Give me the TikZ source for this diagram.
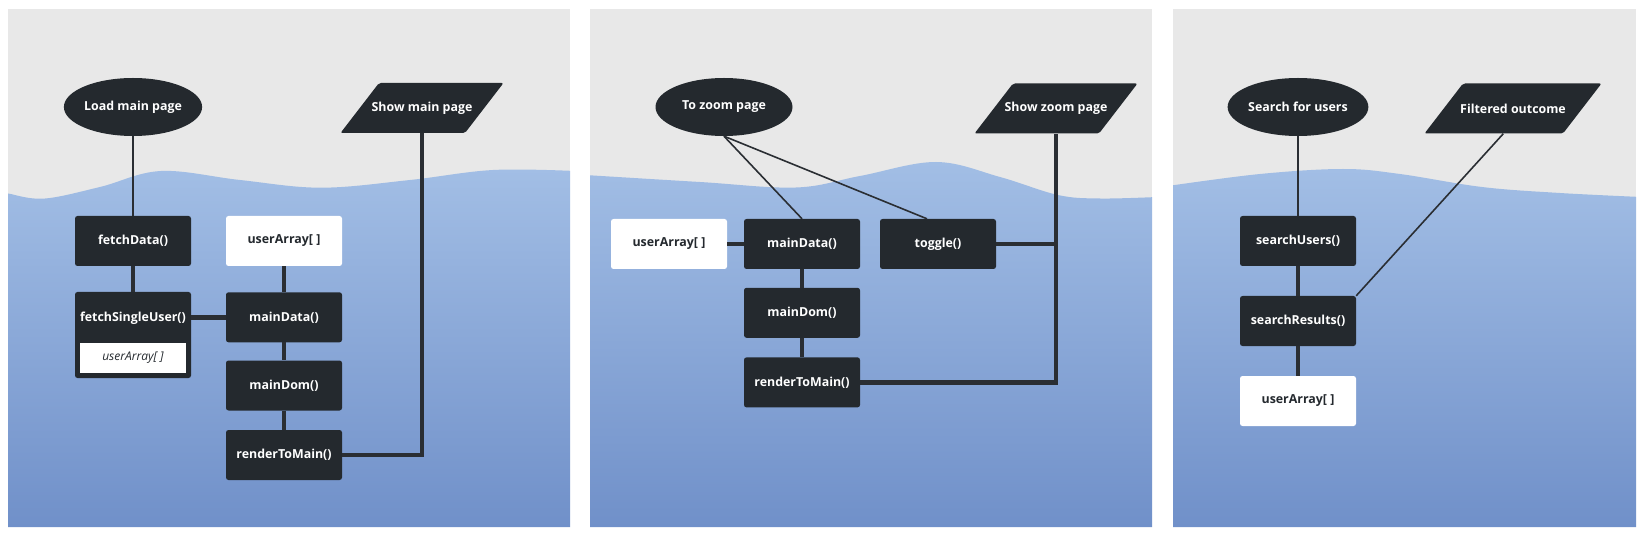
\documentclass[tikz,border=0pt]{standalone}
\usepackage{fontspec}
\setmainfont{Open Sans}
\usetikzlibrary{shapes.geometric}
\definecolor{dk}{HTML}{24292E}
\definecolor{gr}{HTML}{E8E8E8}
\definecolor{blt}{HTML}{A2BEE5}
\definecolor{bdk}{HTML}{7090C9}
\definecolor{ln}{HTML}{2A2E33}
\begin{document}
\begin{tikzpicture}[x=1pt,y=-1pt,
  lbl/.style={font=\bfseries\fontsize{12.4}{14}\selectfont},
  proc/.style={rectangle, rounded corners=2.5pt, fill=dk, text=white, lbl, minimum width=116pt, minimum height=50pt, inner sep=0pt},
  datab/.style={proc, fill=white, text=dk},
  term/.style={ellipse, fill=dk, text=white, lbl, minimum width=137pt, minimum height=58pt, inner sep=0pt},
  io/.style={rectangle, text=white, lbl, minimum width=163pt, minimum height=50pt, inner sep=0pt,
    path picture={\fill[dk, rounded corners=2pt]
      ([xshift=38.5pt]path picture bounding box.north west) -- (path picture bounding box.north east)
      -- ([xshift=-38.5pt]path picture bounding box.south east) -- (path picture bounding box.south west) -- cycle;}},
  thinln/.style={draw=ln, line width=1.6pt},
  thickln/.style={draw=ln, line width=4.5pt},
]
\useasboundingbox (0,0) rectangle (1644,537);
\fill[white] (0,0) rectangle (1644,537);
% ---------- panel backgrounds ----------
\fill[gr] (8,9) rectangle (570,527);
\fill[gr] (590,9) rectangle (1152,527);
\fill[gr] (1173,9) rectangle (1636,527);
\begin{scope}
  \clip (8,9) rectangle (570,527);
  \shade[top color=blt, bottom color=bdk] plot[smooth, tension=0.6] coordinates {(0,192) (8,193.5) (44,198.6) (100,187) (161,171) (240,180) (321,187.7) (410,180) (493,170) (575,171)} -- (575,527) -- (0,527) -- cycle;
\end{scope}
\begin{scope}
  \clip (590,9) rectangle (1152,527);
  \shade[top color=blt, bottom color=bdk] plot[smooth, tension=0.6] coordinates {(585,175) (700,182) (796,187.5) (860,176) (936,162) (1000,177) (1058,195) (1100,198.5) (1157,197)} -- (1157,527) -- (585,527) -- cycle;
\end{scope}
\begin{scope}
  \clip (1173,9) rectangle (1636,527);
  \shade[top color=blt, bottom color=bdk] plot[smooth, tension=0.6] coordinates {(1168,186) (1260,174) (1343,169) (1400,174) (1482,187) (1560,193) (1641,197)} -- (1641,527) -- (1168,527) -- cycle;
\end{scope}
% ---------- panel 1 ----------
\node[term] (lmp) at (133,107) {Load main page};
\node[io] (smp) at (422,108) {Show main page};
\node[proc] (fd) at (133,241) {fetchData()};
\node[datab] (ua1) at (284,241) {userArray[ ]};
\node[proc, minimum height=86pt] (fsu) at (133,335) {};
\node[text=white, lbl] (fsut) at (133,318.5) {fetchSingleUser()};
\node[fill=white, text=dk, font=\itshape\fontsize{12}{14}\selectfont, minimum width=106pt, minimum height=29.5pt, inner sep=0pt] (fsua) at (133,358) {userArray[ ]};
\node[proc] (md1) at (284,317.3) {mainData()};
\node[proc] (mdom1) at (284,385.5) {mainDom()};
\node[proc] (rtm1) at (284,455) {renderToMain()};
\draw[thinln] (lmp) -- (fd);
\draw[thickln] (fd) -- (fsu);
\draw[thickln] (ua1) -- (md1);
\draw[thickln] (md1.west) -- (md1.west -| fsu.east);
\draw[thickln] (md1) -- (mdom1);
\draw[thickln] (mdom1) -- (rtm1);
\draw[thickln] (rtm1.east) -| (smp);
% ---------- panel 2 ----------
\node[term] (tzp) at (724,107) {To zoom page};
\node[io] (szp) at (1056,108.5) {Show zoom page};
\node[datab] (ua2) at (669,244) {userArray[ ]};
\node[proc] (md2) at (802,244) {mainData()};
\node[proc] (tg) at (938,244) {toggle()};
\node[proc] (mdom2) at (802,312.8) {mainDom()};
\node[proc] (rtm2) at (802,382.4) {renderToMain()};
\draw[thinln] (tzp.south) -- (md2.north);
\draw[thinln] (tzp.south) -- ([xshift=-11pt]tg.north);
\draw[thickln] (ua2) -- (md2);
\draw[thickln] (md2) -- (mdom2);
\draw[thickln] (mdom2) -- (rtm2);
\draw[thickln] (rtm2.east) -| (szp);
\draw[thickln] (tg.east) -- (tg.east -| szp);
% ---------- panel 3 ----------
\node[term] (sfu) at (1298,107) {Search for users};
\node[io, minimum width=177pt] (fo) at (1513,108.5) {Filtered outcome};
\node[proc] (su) at (1298,241) {searchUsers()};
\node[proc] (sr) at (1298,321) {searchResults()};
\node[datab] (ua3) at (1298,401) {userArray[ ]};
\draw[thinln] (sfu) -- (su);
\draw[thickln] (su) -- (sr);
\draw[thickln] (sr) -- (ua3);
\draw[thinln] (sr.north east) -- ([xshift=79pt]fo.south west);
\end{tikzpicture}
\end{document}
